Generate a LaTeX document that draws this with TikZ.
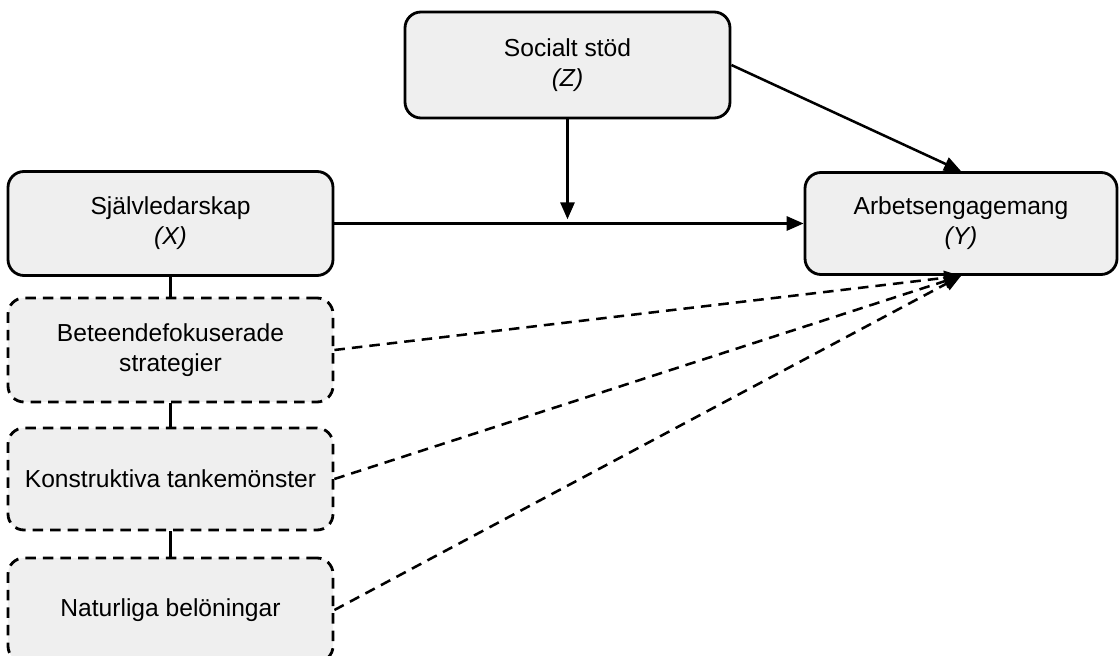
\documentclass[tikz,border=0pt]{standalone}
\usepackage{fontspec}
\setmainfont{Liberation Sans}
\usepackage{xcolor}
\usepackage{tikz}
\usetikzlibrary{positioning}
\usetikzlibrary{arrows.meta}

\definecolor{boxgray}{HTML}{EFEFEF}

\tikzset{
  varbox/.style={draw, rectangle, rounded corners=0.4cm, fill=boxgray, line width=2pt,
    minimum width=8.125cm, align=center, font=\fontsize{17.5}{21.5}\selectfont},
  dimbox/.style={varbox, dashed, dash pattern=on 7.5pt off 5pt},
  arr/.style={-{Triangle[length=12pt,width=10pt]}, line width=1.8pt},
  darr/.style={arr, dash pattern=on 7.5pt off 5pt}
}

\begin{document}
\begin{tikzpicture}
            \useasboundingbox (0,0) rectangle (27.975,16.4);
            % Nodes for the model
            \node[varbox, minimum height=2.65cm] (Z) at (14.1875,14.775) {Socialt stöd\\\textit{(Z)}};
            \node[varbox, minimum height=2.6cm] (X) at (4.2625,10.8125) {Självledarskap\\\textit{(X)}};
            \node[varbox, minimum width=7.8cm, minimum height=2.55cm] (Y) at (24.025,10.8125) {Arbetsengagemang\\\textit{(Y)}};

            % Dimensions of self-leadership
            \node[dimbox, minimum height=2.6cm] (D1) at (4.2625,7.65) {Beteendefokuserade\\strategier};
            \node[dimbox, minimum height=2.55cm] (D2) at (4.2625,4.425) {Konstruktiva tankemönster};
            \node[dimbox, minimum height=2.6cm] (D3) at (4.2625,1.15) {Naturliga belöningar};

            \draw[line width=1.8pt] (X.south) -- (D1.north);
            \draw[line width=1.8pt] (D1.south) -- (D2.north);
            \draw[line width=1.8pt] (D2.south) -- (D3.north);

            % Paths
            \draw[arr] (X.east) -- (Y.west);
            \draw[arr, shorten >=3pt] (Z.south) -- (Z.south |- X.east);
            \draw[arr] (Z.east) -- (Y.north);
            \draw[darr] (D1.east) -- (Y.south);
            \draw[darr] (D2.east) -- (Y.south);
            \draw[darr] (D3.east) -- (Y.south);
        \end{tikzpicture}
\end{document}
